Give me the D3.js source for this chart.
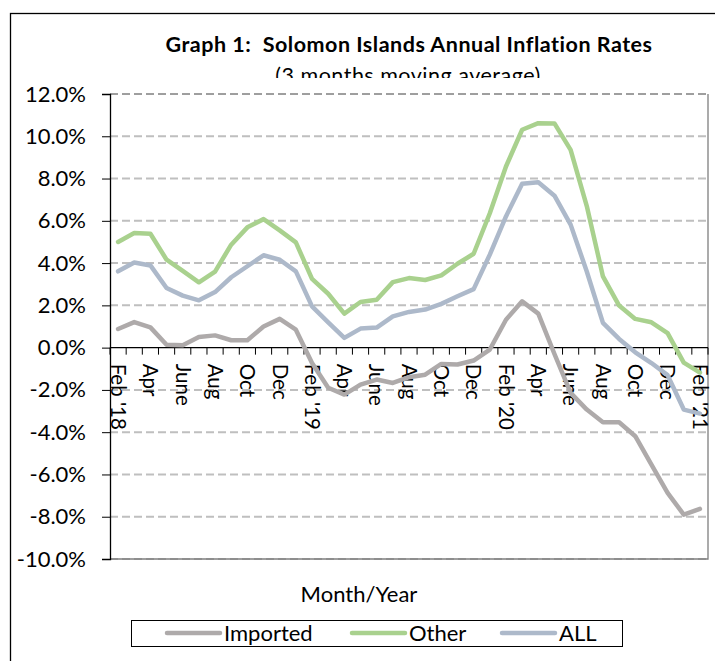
<!DOCTYPE html>
<html>
<head>
<meta charset="utf-8">
<script src="https://cdn.jsdelivr.net/npm/d3@7"></script>
<style>
  body { margin: 0; background: #fff; }
  text { font-family: Lato, "Open Sans", sans-serif; fill: #000; white-space: pre; }
</style>
</head>
<body>
<div id="chart"></div>
<script>
// months Feb '18 .. Feb '21, only every second one is labelled
const months = ["Feb '18", "Mar", "Apr", "May", "June", "Jul", "Aug", "Sep", "Oct", "Nov", "Dec", "Jan",
    "Feb '19", "Mar", "Apr", "May", "June", "Jul", "Aug", "Sep", "Oct", "Nov", "Dec", "Jan",
    "Feb '20", "Mar", "Apr", "May", "June", "Jul", "Aug", "Sep", "Oct", "Nov", "Dec", "Jan",
    "Feb '21"];

const imported = [0.88, 1.21, 0.96, 0.14, 0.11, 0.50, 0.58, 0.35, 0.35, 1.00, 1.36, 0.85,
    -0.73, -1.90, -2.22, -1.75, -1.51, -1.67, -1.40, -1.28, -0.77, -0.80, -0.61, -0.09,
    1.32, 2.19, 1.61, -0.30, -2.14, -2.93, -3.53, -3.53, -4.19, -5.53, -6.87, -7.90, -7.63];

const other = [5.00, 5.42, 5.39, 4.16, 3.63, 3.09, 3.60, 4.87, 5.69, 6.08, 5.55, 4.98,
    3.25, 2.55, 1.61, 2.16, 2.27, 3.10, 3.29, 3.20, 3.42, 3.97, 4.44, 6.36,
    8.57, 10.31, 10.62, 10.61, 9.36, 6.70, 3.37, 1.99, 1.36, 1.20, 0.69, -0.71, -1.18];

const all = [3.61, 4.03, 3.89, 2.82, 2.46, 2.24, 2.63, 3.33, 3.85, 4.37, 4.16, 3.61,
    1.95, 1.20, 0.46, 0.90, 0.95, 1.48, 1.69, 1.80, 2.07, 2.43, 2.77, 4.40,
    6.21, 7.75, 7.82, 7.19, 5.82, 3.60, 1.17, 0.41, -0.22, -0.73, -1.30, -2.93, -3.12];

const yTicks = [12, 10, 8, 6, 4, 2, 0, -2, -4, -6, -8, -10];

const seriesNames = ["Imported", "Other", "ALL"];
const seriesColors = ["#aeaaaa", "#a9d18e", "#adb9ca"];

const width = 715, height = 661;
const plotLeft = 110, plotRight = 708, plotTop = 94, plotBottom = 559;

const svg = d3.select("#chart").append("svg")
    .attr("width", width)
    .attr("height", height);

// chart border
svg.append("rect")
    .attr("x", 10.5).attr("y", 13.5)
    .attr("width", 720).attr("height", 700)
    .attr("fill", "#fff")
    .attr("stroke", "#000")
    .attr("stroke-width", 1.3);

// titles
svg.append("text")
    .attr("x", 409).attr("y", 52)
    .attr("text-anchor", "middle")
    .style("font-size", "21.5px")
    .style("font-weight", "bold")
    .style("letter-spacing", "0.5px")
    .text("Graph 1:  Solomon Islands Annual Inflation Rates");
svg.append("text")
    .attr("x", 408).attr("y", 83)
    .attr("text-anchor", "middle")
    .style("font-size", "21.5px")
    .style("letter-spacing", "0.5px")
    .text("(3 months moving average)");

// plot area background hides the bottom of the subtitle
svg.append("rect")
    .attr("x", 95).attr("y", 78)
    .attr("width", plotRight - 95).attr("height", plotBottom - 78)
    .attr("fill", "#fff");

const x = d3.scaleBand()
    .domain(d3.range(months.length))
    .range([plotLeft, plotRight]);

const y = d3.scaleLinear()
    .domain([-10, 12])
    .range([plotBottom, plotTop]);

// gridlines
svg.append("g")
    .selectAll("line")
    .data(yTicks.filter(d => d !== 0))
    .enter()
    .append("line")
    .attr("x1", plotLeft).attr("x2", plotRight)
    .attr("y1", d => y(d)).attr("y2", d => y(d))
    .attr("stroke", "#bfbfbf")
    .attr("stroke-width", 2)
    .attr("stroke-dasharray", "8,4");

// plot border (right and bottom)
svg.append("path")
    .attr("d", `M${plotLeft},${plotBottom}H${plotRight}V${plotTop}`)
    .attr("fill", "none")
    .attr("stroke", "#7f7f7f")
    .attr("stroke-width", 1.3);
svg.append("line")
    .attr("x1", plotLeft).attr("x2", plotRight)
    .attr("y1", plotTop).attr("y2", plotTop)
    .attr("stroke", "#7f7f7f")
    .attr("stroke-width", 1)
    .attr("stroke-dasharray", "8,4");

// y axis
const yAxis = svg.append("g")
    .attr("transform", `translate(${plotLeft},0)`)
    .call(d3.axisLeft(y).tickValues(yTicks).tickSize(8).tickPadding(16)
        .tickFormat(d => d.toFixed(1) + "%"));
yAxis.select(".domain").attr("stroke", "#000").attr("stroke-width", 1.3);
yAxis.selectAll(".tick line").attr("stroke", "#000");
yAxis.selectAll("text")
    .style("font-size", "22px")
    .style("font-family", "Lato, sans-serif")
    .attr("fill", "#000");

// x axis at zero, ticks between categories
const bounds = d3.range(months.length + 1).map(i => plotLeft + i * x.bandwidth());
const xAxis = svg.append("g");
xAxis.append("line")
    .attr("x1", plotLeft).attr("x2", plotRight)
    .attr("y1", y(0)).attr("y2", y(0))
    .attr("stroke", "#000")
    .attr("stroke-width", 1.3);
xAxis.selectAll("line.tick")
    .data(bounds)
    .enter()
    .append("line")
    .attr("class", "tick")
    .attr("x1", d => d).attr("x2", d => d)
    .attr("y1", y(0)).attr("y2", y(0) + 7)
    .attr("stroke", "#000");
xAxis.selectAll("text")
    .data(d3.range(0, months.length, 2))
    .enter()
    .append("text")
    .attr("transform", d => `translate(${x(d) + x.bandwidth() / 2},${y(0) + 16})rotate(90)`)
    .attr("dy", "0.35em")
    .style("font-size", "20.5px")
    .text(d => months[d]);

// lines
const line = d3.line()
    .x((d, i) => x(i) + x.bandwidth() / 2)
    .y(d => y(d));

[imported, other, all].forEach((s, k) => {
    svg.append("path")
        .datum(s)
        .attr("d", line)
        .attr("fill", "none")
        .attr("stroke", seriesColors[k])
        .attr("stroke-width", 4.5)
        .attr("stroke-linejoin", "round")
        .attr("stroke-linecap", "round");
});

// axis title
svg.append("text")
    .attr("x", 359).attr("y", 602)
    .attr("text-anchor", "middle")
    .style("font-size", "22px")
    .text("Month/Year");

// legend
svg.append("rect")
    .attr("x", 131.5).attr("y", 620.5)
    .attr("width", 491).attr("height", 26)
    .attr("fill", "#fff")
    .attr("stroke", "#000")
    .attr("stroke-width", 1);

const legendX = [167, 352, 502];
const legend = svg.append("g")
    .selectAll("g")
    .data(seriesNames)
    .enter()
    .append("g")
    .attr("transform", (d, i) => `translate(${legendX[i]},633)`);
legend.append("line")
    .attr("x1", 0).attr("x2", 53)
    .attr("stroke", (d, i) => seriesColors[i])
    .attr("stroke-width", 4.5)
    .attr("stroke-linecap", "round");
legend.append("text")
    .attr("x", 57)
    .attr("dy", "0.35em")
    .style("font-size", "22px")
    .text(d => d);
</script>
</body>
</html>
